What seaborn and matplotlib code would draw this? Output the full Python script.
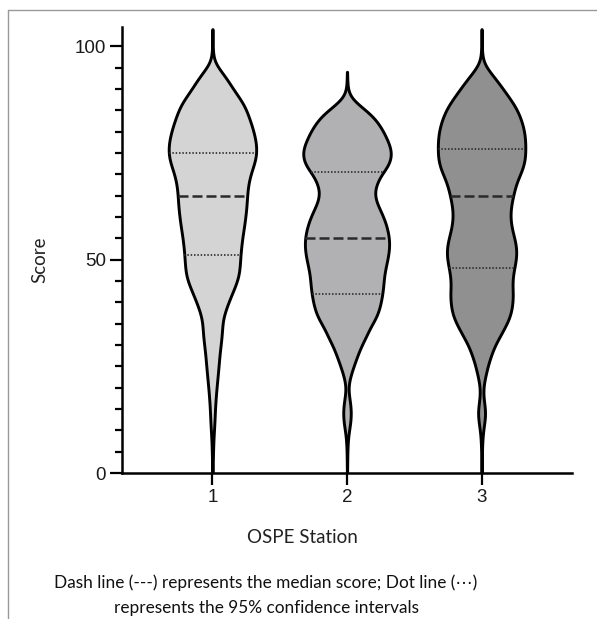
import numpy as np
import pandas as pd
import matplotlib
matplotlib.use("Agg")
import matplotlib.pyplot as plt
import seaborn as sns
from matplotlib.ticker import MultipleLocator, NullLocator
from matplotlib.lines import Line2D

stations = ["1", "2", "3"]

score_levels = np.arange(0, 105, 2)

# relative density (violin half width) at each score level
density_1 = [0.2, 0.3, 0.5, 0.7, 1, 1.5, 2, 2.3, 2.7, 3.3, 4, 4.8, 5.6, 6.3, 7, 8, 9, 9.5,
             10, 12.5, 15.5, 19, 22.5, 25.5, 26.5, 27, 27.5, 28.5, 29.5, 31, 32, 33, 33.5,
             34, 35, 37, 40, 42.5, 43, 42, 40, 37.5, 34.5, 31.5, 26, 20, 15, 9, 2, 0.5,
             0.3, 0.2, 0.1]
density_2 = [0.1, 0.2, 0.3, 0.5, 0.9, 2, 3.5, 4, 3.5, 2, 1, 2.5, 5, 8, 11, 14.5, 19, 22.5,
             28, 31.5, 33.5, 35, 36, 36.5, 38, 40, 41.5, 42, 41, 39, 36, 32, 28, 27, 29.5,
             34, 41, 44, 43.5, 40, 36, 31, 24, 13, 3, 0.6, 0.3, 0.1, 0, 0, 0, 0, 0]
density_3 = [0.1, 0.2, 0.3, 0.5, 0.8, 1.5, 3, 4, 3, 1.5, 1.5, 3, 5, 7, 10, 13, 18, 22.5,
             27, 29.5, 30.5, 31, 30, 30.5, 32, 34, 34.5, 33.5, 31, 29, 28, 28.5, 30, 32,
             34, 38, 41.5, 43, 43, 43, 42, 40, 37, 33, 27, 21, 15, 8, 1.5, 0.5, 0.3, 0.2,
             0.1]

# median (dashed) and 95% CI bounds (dotted)
medians = [65, 55, 65]
ci_low = [51, 42, 48]
ci_high = [75, 70.5, 76]

fill_colors = ["#d4d4d4", "#b1b1b3", "#909090"]

frames = []
for st, dens in zip(stations, [density_1, density_2, density_3]):
    counts = np.round(np.array(dens) * 10).astype(int)
    frames.append(pd.DataFrame({"station": st, "score": np.repeat(score_levels, counts)}))
df = pd.concat(frames, ignore_index=True)

sns.set_style("ticks")
plt.rcParams["font.family"] = ["Liberation Sans", "DejaVu Sans"]
label_font = ["Lato", "DejaVu Sans"]

fig = plt.figure(figsize=(5.97, 6.19), dpi=100)
ax = fig.add_axes([122 / 597, 1 - 473 / 619, 450 / 597, 446 / 619])

sns.violinplot(data=df, x="station", y="score", hue="station", order=stations,
               hue_order=stations, palette=fill_colors, saturation=1, inner=None,
               cut=0, bw_method=0.09, gridsize=400, width=0.65, density_norm="width",
               linewidth=2.1, linecolor="black", legend=False, ax=ax)

# median and CI lines, spanning the violin width at that score
for poly in ax.collections:
    verts = poly.get_paths()[0].vertices
    center = int(round(verts[:, 0].mean()))
    right = verts[verts[:, 0] > center]
    idx = np.argsort(right[:, 1])
    ys, xs = right[idx, 1], right[idx, 0]
    for level, style, lw in [(medians[center], (0, (4, 1.6)), 1.8),
                             (ci_low[center], (0, (0.9, 1.1)), 1.2),
                             (ci_high[center], (0, (0.9, 1.1)), 1.2)]:
        hw = np.interp(level, ys, xs) - center
        ax.plot([center - hw, center + hw], [level, level], color="#2a2a2a",
                lw=lw, ls=style, solid_capstyle="butt", dash_capstyle="butt")

ax.set_xlim(-0.672, 2.672)
ax.set_ylim(0, 104.5)
ax.set_yticks([0, 50, 100])
ax.yaxis.set_minor_locator(MultipleLocator(5))
ax.xaxis.set_minor_locator(NullLocator())
ax.tick_params(axis="y", which="major", length=8.5, width=1.6, labelsize=13.5, pad=3,
               color="black", labelcolor="#1a1a1a")
ax.tick_params(axis="y", which="minor", length=5, width=1.6, color="black")
ax.tick_params(axis="x", which="major", length=8.6, width=1.6, labelsize=13.5, pad=3,
               color="black", labelcolor="#1a1a1a")

sns.despine(ax=ax)
for side in ["left", "bottom"]:
    ax.spines[side].set_linewidth(1.8)
    ax.spines[side].set_color("black")

ax.set_xlabel("OSPE Station", fontsize=13.5, family=label_font, color="#222222")
ax.set_ylabel("Score", fontsize=13.5, family=label_font, color="#222222")
ax.xaxis.set_label_coords(0.4, -0.125)
ax.yaxis.set_label_coords(-0.164, 0.4776)

fig.text(266 / 597, 1 - 583 / 619,
         "Dash line (---) represents the median score; Dot line (\u22ef)",
         ha="center", va="center", fontsize=12.4, family=label_font, color="#111111")
fig.text(266 / 597, 1 - 608 / 619, "represents the 95% confidence intervals",
         ha="center", va="center", fontsize=12.4, family=label_font, color="#111111")

# grey border of the original figure panel
fig.add_artist(Line2D([8 / 597, 8 / 597], [0, 1 - 10 / 619], transform=fig.transFigure,
                      color="#999999", lw=1))
fig.add_artist(Line2D([8 / 597, 1], [1 - 10 / 619, 1 - 10 / 619], transform=fig.transFigure,
                      color="#999999", lw=1))

fig.savefig("out.png", dpi=100)
